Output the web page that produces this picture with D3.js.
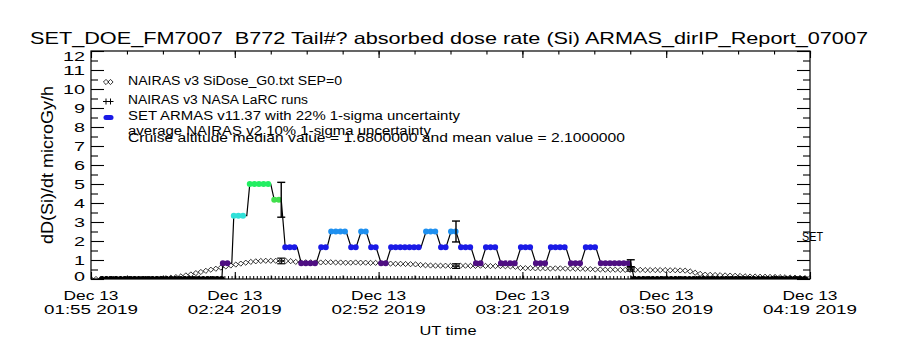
<!DOCTYPE html>
<html>
<head>
<meta charset="utf-8">
<script src="https://cdn.jsdelivr.net/npm/d3@7"></script>
<style>
  body { margin: 0; background: #fff; }
  text { font-family: "Liberation Sans", "DejaVu Sans", sans-serif; fill: #000; }
</style>
</head>
<body>
<div id="wrapper"></div>
<script>
// times are UT minutes after 00:00 on Dec 13 2019

// NAIRAS v3 SiDose_G0 curve, one value per minute from 01:55
const g0Start = 115;
const g0Values = [
  0, 0, 0, 0, 0, 0, 0, 0, 0, 0, 0, 0, 0, 0,
  0.02, 0.04, 0.07, 0.1, 0.14, 0.19, 0.24, 0.31, 0.37, 0.43, 0.49, 0.54, 0.6, 0.66, 0.71, 0.76, 0.81, 0.86, 0.9, 0.93,
  0.95, 0.96, 0.96, 0.96, 0.95, 0.95, 0.94,
  0.9, 0.89, 0.88, 0.88, 0.87, 0.87, 0.88, 0.88, 0.87, 0.87, 0.86, 0.86, 0.87, 0.86, 0.86, 0.85, 0.85, 0.84,
  0.82, 0.81, 0.8, 0.8, 0.79, 0.78, 0.77,
  0.74, 0.72, 0.71, 0.7, 0.7, 0.7, 0.69, 0.7, 0.7, 0.7, 0.69, 0.69, 0.7, 0.69, 0.68, 0.68, 0.68, 0.67, 0.66, 0.64,
  0.58, 0.57, 0.57, 0.56, 0.56, 0.56, 0.55, 0.56, 0.56, 0.55, 0.55, 0.54, 0.54, 0.53, 0.52,
  0.5, 0.5, 0.49, 0.49, 0.49, 0.48, 0.48, 0.48, 0.48, 0.48, 0.47, 0.47, 0.47, 0.47, 0.47, 0.46, 0.46, 0.45, 0.44,
  0.4, 0.33, 0.27, 0.23, 0.22, 0.21, 0.2, 0.19, 0.18, 0.17, 0.16,
  0.14, 0.13, 0.13, 0.12, 0.12, 0.11, 0.11,
  0.1, 0.09, 0.08, 0.07, 0.06, 0.05, 0.05
];

// SET ARMAS dose rate plateaus
const armasStart = [117.2, 141.4, 143.6, 146.8, 151.7, 153.9, 157.1, 161.1, 163.1, 167.1, 169.1, 171.1, 173.1, 175.1,
  182.1, 185.1, 187.1, 189.1, 192.1, 194.1, 197.1, 201.1, 204.1, 207.1, 211.1, 214.1, 217.1, 223.8];
const armasEnd = [141.2, 143.2, 146.2, 151.0, 153.1, 156.3, 160.1, 162.3, 166.1, 168.1, 170.1, 172.1, 174.1, 181.1,
  184.1, 186.1, 188.1, 191.1, 193.1, 196.1, 200.1, 203.1, 206.1, 210.1, 213.1, 216.1, 223.1, 258.6];
const armasValue = [0, 0.83, 3.33, 5.0, 4.17, 1.67, 0.83, 1.67, 2.5, 1.67, 2.5, 1.67, 0.83, 1.67,
  2.5, 1.67, 2.5, 1.67, 0.83, 1.67, 0.83, 1.67, 0.83, 1.67, 0.83, 1.67, 0.83, 0];

// NASA LaRC runs, with ARMAS 22% and NAIRAS 10% error bars
const larcTime = [153.1, 188.1, 223.1];
const larcValue = [0.95, 0.68, 0.52];
const armasAtLarc = [4.17, 2.5, 0.83];

const armasMean = 2.1;

const xTickTimes = [115, 143.8, 172.6, 201.4, 230.2, 259];
const xTickTop = ['Dec 13', 'Dec 13', 'Dec 13', 'Dec 13', 'Dec 13', 'Dec 13'];
const xTickBottom = ['01:55 2019', '02:24 2019', '02:52 2019', '03:21 2019', '03:50 2019', '04:19 2019'];
const yTicks = [0, 1, 2, 3, 4, 5, 6, 7, 8, 9, 10, 11, 12];

const legendLabels = [
  'NAIRAS v3 SiDose_G0.txt SEP=0',
  'NAIRAS v3 NASA LaRC runs',
  'SET ARMAS v11.37 with 22% 1-sigma uncertainty'
];
const noteLabels = [
  'average NAIRAS v2 10% 1-sigma uncertainty',
  'Cruise altitude median value = 1.6800000 and mean value = 2.1000000'
];

const colorLevels = [0, 0.83, 1.67, 2.5, 3.33, 4.17, 5.0];
const colorRange = ['#000000', '#4e0e82', '#1a1ae6', '#1e90f0', '#30e0d8', '#40df4c', '#22ef62'];

function drawChart() {
  const dimensions = {
    width: 900,
    height: 350,
    left: 91, right: 810, top: 51, bottom: 279
  };

  const svg = d3.select('#wrapper').append('svg')
    .attr('width', dimensions.width)
    .attr('height', dimensions.height)
    .style('display', 'block');

  const xScale = d3.scaleLinear().domain([115, 259]).range([dimensions.left, dimensions.right]);
  const yScale = d3.scaleLinear().domain([0, 12]).range([dimensions.bottom, dimensions.top]);
  const colorScale = d3.scaleLinear().domain(colorLevels).range(colorRange);

  svg.append('defs').append('clipPath').attr('id', 'plot-clip')
    .append('rect')
    .attr('x', dimensions.left).attr('y', dimensions.top)
    .attr('width', dimensions.right - dimensions.left)
    .attr('height', dimensions.bottom - dimensions.top);

  // title
  svg.append('text')
    .attr('x', 30).attr('y', 43.5)
    .attr('textLength', 838).attr('lengthAdjust', 'spacingAndGlyphs')
    .style('font-size', '16.5px')
    .style('white-space', 'pre')
    .text('SET_DOE_FM7007  B772 Tail#? absorbed dose rate (Si) ARMAS_dirIP_Report_07007');

  const plot = svg.append('g').attr('clip-path', 'url(#plot-clip)');

  // G0 diamonds
  const diamond = 'M0,-2.6L2.6,0L0,2.6L-2.6,0Z';
  plot.selectAll('.g0')
    .data(g0Values)
    .join('path')
    .attr('class', 'g0')
    .attr('d', diamond)
    .attr('transform', (d, i) => `translate(${xScale(g0Start + i)},${yScale(d)})`)
    .attr('fill', 'none')
    .attr('stroke', '#000')
    .attr('stroke-width', 0.8);

  // ARMAS sample rug along the baseline
  plot.append('line')
    .attr('x1', xScale(armasStart[0])).attr('x2', xScale(armasEnd[armasEnd.length - 1]))
    .attr('y1', dimensions.bottom - 1.5).attr('y2', dimensions.bottom - 1.5)
    .attr('stroke', '#000').attr('stroke-width', 3)
    .attr('stroke-dasharray', '1 2.6');

  // ARMAS connecting line
  const armasPoints = [];
  armasValue.forEach((v, i) => {
    armasPoints.push([armasStart[i], v]);
    armasPoints.push([armasEnd[i], v]);
  });
  plot.append('path')
    .datum(armasPoints)
    .attr('d', d3.line().x(d => xScale(d[0])).y(d => yScale(d[1])))
    .attr('fill', 'none')
    .attr('stroke', '#000')
    .attr('stroke-width', 1.2);

  // ARMAS dots, coloured by value
  plot.selectAll('.armas')
    .data(armasValue)
    .join('line')
    .attr('class', 'armas')
    .attr('x1', (d, i) => xScale(armasStart[i]))
    .attr('x2', (d, i) => xScale(armasEnd[i]))
    .attr('y1', d => yScale(d))
    .attr('y2', d => yScale(d))
    .attr('stroke', d => colorScale(d))
    .attr('stroke-width', 6)
    .attr('stroke-linecap', 'round')
    .attr('stroke-dasharray', '0 4.6');

  // ARMAS 22% error bars
  const errs = plot.selectAll('.armas-err')
    .data(armasAtLarc)
    .join('g')
    .attr('class', 'armas-err')
    .attr('transform', (d, i) => `translate(${xScale(larcTime[i])},0)`)
    .attr('stroke', '#000')
    .attr('stroke-width', 1.4);
  errs.append('line')
    .attr('y1', d => yScale(d * 1.22)).attr('y2', d => yScale(d * 0.78));
  errs.append('line')
    .attr('x1', -4).attr('x2', 4)
    .attr('y1', d => yScale(d * 1.22)).attr('y2', d => yScale(d * 1.22));
  errs.append('line')
    .attr('x1', -4).attr('x2', 4)
    .attr('y1', d => yScale(d * 0.78)).attr('y2', d => yScale(d * 0.78));

  // LaRC runs, plus markers with 10% bars
  const larc = plot.selectAll('.larc')
    .data(larcValue)
    .join('g')
    .attr('class', 'larc')
    .attr('transform', (d, i) => `translate(${xScale(larcTime[i])},0)`)
    .attr('stroke', '#000')
    .attr('stroke-width', 1.2);
  larc.append('line')
    .attr('x1', -4).attr('x2', 4)
    .attr('y1', d => yScale(d * 1.1) - 1).attr('y2', d => yScale(d * 1.1) - 1);
  larc.append('line')
    .attr('x1', -4).attr('x2', 4)
    .attr('y1', d => yScale(d * 0.9) + 1).attr('y2', d => yScale(d * 0.9) + 1);
  larc.append('line')
    .attr('x1', -4).attr('x2', 4)
    .attr('y1', d => yScale(d)).attr('y2', d => yScale(d));
  larc.append('line')
    .attr('y1', d => yScale(d * 1.1) - 1).attr('y2', d => yScale(d * 0.9) + 1);

  // frame
  svg.append('rect')
    .attr('x', dimensions.left).attr('y', dimensions.top)
    .attr('width', dimensions.right - dimensions.left)
    .attr('height', dimensions.bottom - dimensions.top)
    .attr('fill', 'none').attr('stroke', '#000').attr('stroke-width', 1.2);

  // y axes
  const yMinor = d3.range(0.5, 12, 1);
  const yLeft = svg.append('g')
    .attr('transform', `translate(${dimensions.left},0)`)
    .call(d3.axisLeft(yScale).tickValues(yTicks).tickSizeInner(-13).tickSizeOuter(0).tickPadding(6));
  yLeft.select('.domain').remove();
  yLeft.selectAll('text')
    .style('font-size', '13.5px')
    .attr('textLength', d => String(d).length * 11)
    .attr('lengthAdjust', 'spacingAndGlyphs')
    .attr('dy', d => d === 12 ? '0.72em' : d === 0 ? '0.1em' : '0.36em');
  svg.append('g')
    .attr('transform', `translate(${dimensions.left},0)`)
    .call(d3.axisLeft(yScale).tickValues(yMinor).tickSizeInner(-7).tickSizeOuter(0).tickFormat(''))
    .select('.domain').remove();
  svg.append('g')
    .attr('transform', `translate(${dimensions.right},0)`)
    .call(d3.axisRight(yScale).tickValues(yTicks).tickSizeInner(-13).tickSizeOuter(0).tickFormat(''))
    .select('.domain').remove();
  svg.append('g')
    .attr('transform', `translate(${dimensions.right},0)`)
    .call(d3.axisRight(yScale).tickValues(yMinor).tickSizeInner(-7).tickSizeOuter(0).tickFormat(''))
    .select('.domain').remove();

  // x axes
  const xMinor = d3.range(115, 259.1, 7.2);
  [[d3.axisBottom, dimensions.bottom], [d3.axisTop, dimensions.top]].forEach(([axisFn, yPos]) => {
    svg.append('g')
      .attr('transform', `translate(0,${yPos})`)
      .call(axisFn(xScale).tickValues(xTickTimes).tickSizeInner(-7).tickSizeOuter(0).tickFormat(''))
      .select('.domain').remove();
    svg.append('g')
      .attr('transform', `translate(0,${yPos})`)
      .call(axisFn(xScale).tickValues(xMinor).tickSizeInner(-3.5).tickSizeOuter(0).tickFormat(''))
      .select('.domain').remove();
  });
  svg.selectAll('.tick line').attr('stroke-width', 1.1);

  const xLabels = svg.append('g').selectAll('g')
    .data(xTickTimes)
    .join('g')
    .attr('transform', d => `translate(${xScale(d)},0)`)
    .style('font-size', '12.5px')
    .attr('text-anchor', 'middle');
  xLabels.append('text').attr('y', 300)
    .attr('textLength', 55).attr('lengthAdjust', 'spacingAndGlyphs')
    .text((d, i) => xTickTop[i]);
  xLabels.append('text').attr('y', 313.5)
    .attr('textLength', 94).attr('lengthAdjust', 'spacingAndGlyphs')
    .text((d, i) => xTickBottom[i]);

  svg.append('text')
    .attr('x', 448).attr('y', 335)
    .attr('text-anchor', 'middle')
    .attr('textLength', 57).attr('lengthAdjust', 'spacingAndGlyphs')
    .style('font-size', '13.5px')
    .text('UT time');

  svg.append('text')
    .attr('transform', `translate(53,${(dimensions.top + dimensions.bottom) / 2}) rotate(-90)`)
    .attr('text-anchor', 'middle')
    .attr('textLength', 158).attr('lengthAdjust', 'spacingAndGlyphs')
    .style('font-size', '16px')
    .text('dD(Si)/dt microGy/h');

  // mean marker on the right axis
  svg.append('text')
    .attr('x', 802).attr('y', yScale(armasMean) + 2)
    .style('font-size', '13px')
    .attr('textLength', 21).attr('lengthAdjust', 'spacingAndGlyphs')
    .text('SET');

  // legend
  const legendBase = [85, 104, 120];
  const legendWidths = [214, 180, 332];
  svg.append('g').selectAll('text')
    .data(legendLabels)
    .join('text')
    .attr('x', 128)
    .attr('y', (d, i) => legendBase[i])
    .attr('textLength', (d, i) => legendWidths[i])
    .attr('lengthAdjust', 'spacingAndGlyphs')
    .style('font-size', '12.5px')
    .text(d => d);
  const noteBase = [135, 142];
  const noteWidths = [303, 497];
  svg.append('g').selectAll('text')
    .data(noteLabels)
    .join('text')
    .attr('x', 128)
    .attr('y', (d, i) => noteBase[i])
    .attr('textLength', (d, i) => noteWidths[i])
    .attr('lengthAdjust', 'spacingAndGlyphs')
    .style('font-size', '12.5px')
    .text(d => d);

  const leg = svg.append('g');
  [106, 110.5].forEach(cx => {
    leg.append('path').attr('d', diamond)
      .attr('transform', `translate(${cx},82)`)
      .attr('fill', 'none').attr('stroke', '#000').attr('stroke-width', 0.8);
    leg.append('path')
      .attr('d', `M${cx - 3},101.5H${cx + 3}M${cx},98.5V104.5`)
      .attr('stroke', '#000').attr('stroke-width', 1);
  });
  leg.append('line')
    .attr('x1', 106).attr('x2', 111)
    .attr('y1', 117.5).attr('y2', 117.5)
    .attr('stroke', colorScale(1.67))
    .attr('stroke-width', 5)
    .attr('stroke-linecap', 'round');
}

drawChart();
</script>
</body>
</html>
